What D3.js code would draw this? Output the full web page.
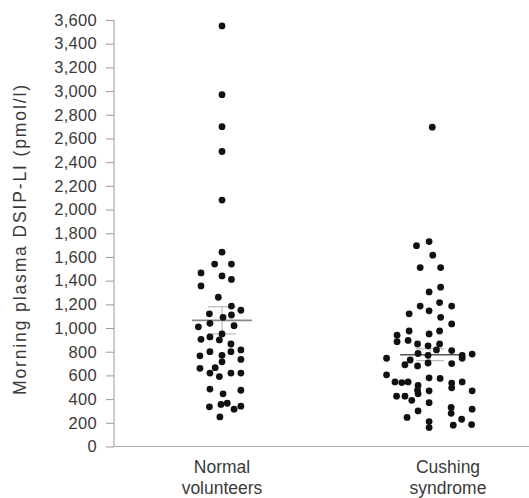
<!DOCTYPE html>
<html>
<head>
<meta charset="utf-8">
<title>DSIP-LI scatter</title>
<script src="https://d3js.org/d3.v7.min.js"></script>
<style>
    body {
        margin: 0;
        background: #fff;
        font-family: 'Liberation Sans', Arial, sans-serif;
    }
    .axis path, .axis line {
        stroke: #9a9a9a;
    }
    .axis text {
        fill: #3a3a3a;
        font-size: 16.5px;
        letter-spacing: 0.3px;
    }
    .catLabel, .yTitle {
        fill: #3a3a3a;
        font-size: 17.5px;
    }
</style>
</head>
<body>
<svg id="chart" width="529" height="498"></svg>
<script>
    // groups shown on the x axis (two text lines each)
    const groups = ["Normal volunteers", "Cushing syndrome"];
    const groupLines = [["Normal", "volunteers"], ["Cushing", "syndrome"]];

    // y ticks, pmol/l
    const yTicks = d3.range(0, 3601, 200);

    // [value pmol/l, column slot relative to the group label]
    const normalPoints = [
        [3550, 0], [2970, 0], [2700, 0], [2490, 0], [2080, 0],
        [1640, 0], [1540, -0.7], [1540, 0.9], [1465, -2.0], [1440, 0], [1410, 0.9],
        [1355, -2.0], [1260, -0.35], [1185, 0.9], [1150, 1.8], [1120, -1.2], [1110, 0.9],
        [1090, 0.1], [1010, -2.25], [1040, -1.15], [1020, 1.15], [950, 0], [905, -2.0],
        [925, -1.15], [900, -0.25], [865, 0.85], [815, 1.8], [800, 0.85], [800, -1.15],
        [765, -2.1], [770, 0], [715, 0], [735, 1.8], [665, -0.65], [660, -2.1],
        [620, -1.15], [590, -0.25], [620, 0.85], [620, 1.8], [485, -1.15], [475, 1.8],
        [445, 0.1], [335, -1.2], [355, -0.1], [365, 0.5], [315, 1.15], [340, 1.8], [250, -0.2]
    ];
    const cushingPoints = [
        [2695, -1.5],
        [1695, -3.0], [1730, -1.8], [1615, -1.45], [1510, -2.65], [1510, -0.7],
        [1305, -1.8], [1345, -0.7], [1185, -2.65], [1215, -0.8], [1185, 0.35],
        [1120, -3.7], [1145, -1.8], [1090, -0.7], [1035, 0.35], [975, -3.7],
        [950, -1.8], [975, -0.8], [940, -4.85], [885, -4.85], [895, -3.8],
        [865, -2.9], [850, -1.9], [865, -0.8], [815, -1.1], [810, 0.35],
        [785, -2.85], [770, -1.9], [770, 1.35], [745, 1.35], [780, 2.3],
        [745, -5.85], [730, -3.6], [690, -4.1], [680, -2.9], [705, -1.9], [700, 0.35],
        [605, -5.85], [545, -5.05], [540, -4.4], [545, -3.8], [515, -2.85], [475, -2.9],
        [580, -1.8], [575, -0.75], [535, 0.35], [495, 0.35], [545, 1.35], [470, 2.3],
        [470, -1.8], [425, -4.9], [425, -4.1], [390, -3.45], [445, -2.85], [370, -1.8],
        [330, 0.3], [280, 0.3], [315, 2.3], [300, -2.85], [245, -3.9], [210, -1.8],
        [160, -1.8], [180, 0.5], [230, 1.3], [185, 2.25]
    ];

    // mean and SEM per group, and centre of each mean bar (slot)
    const groupMeans = [1065, 775];
    const groupSems = [115, 50];
    const meanSlots = [0, -1.7];

    const svg = d3.select("#chart");
    const width = +svg.attr("width");
    const margin = { top: 20, left: 114, bottom: 51.5 };
    const plotBottom = 498 - margin.bottom;

    const y = d3.scaleLinear().domain([0, 3600]).range([plotBottom, margin.top]);
    const x = d3.scalePoint().domain(groups).range([222, 448]);
    const slot = d3.scaleLinear().domain([0, 1]).range([0, 10.5]);

    // y axis
    svg.append("g")
        .attr("class", "axis")
        .attr("transform", "translate(" + margin.left + ",0)")
        .call(d3.axisLeft(y).tickValues(yTicks).tickSize(8).tickPadding(9)
            .tickFormat(d3.format(",")))
        .call(g => g.select(".domain").attr("d", "M0," + y(3600) + "V" + y(0)));

    // baseline
    svg.append("line")
        .attr("x1", margin.left).attr("x2", width)
        .attr("y1", y(0)).attr("y2", y(0))
        .attr("stroke", "#a8a8a8").attr("stroke-width", 1);

    // mean +- SEM bars
    groups.forEach((gname, i) => {
        const cx = x(gname) + slot(meanSlots[i]);
        const m = groupMeans[i], s = groupSems[i];
        const g = svg.append("g");
        g.append("line")
            .attr("x1", cx).attr("x2", cx)
            .attr("y1", y(m + s)).attr("y2", y(m - s))
            .attr("stroke", "#bbb").attr("stroke-width", 1.2);
        [m + s, m - s].forEach(v => {
            g.append("line")
                .attr("x1", cx - 14).attr("x2", cx + 14)
                .attr("y1", y(v)).attr("y2", y(v))
                .attr("stroke", "#bbb").attr("stroke-width", 1.2);
        });
        g.append("line")
            .attr("x1", cx - 30).attr("x2", cx + 30)
            .attr("y1", y(m)).attr("y2", y(m))
            .attr("stroke", i === 0 ? "#8a8a8a" : "#555").attr("stroke-width", 1.6);
    });

    // dots
    [normalPoints, cushingPoints].forEach((pts, i) => {
        svg.append("g").selectAll("circle")
            .data(pts)
            .enter()
            .append("circle")
            .attr("cx", d => x(groups[i]) + slot(d[1]))
            .attr("cy", d => y(d[0]))
            .attr("r", 3.4)
            .attr("fill", "#111");
    });

    // category labels
    groups.forEach((gname, i) => {
        const t = svg.append("text")
            .attr("class", "catLabel")
            .attr("text-anchor", "middle")
            .attr("x", x(gname))
            .attr("y", 473);
        t.append("tspan").attr("x", x(gname)).text(groupLines[i][0]);
        t.append("tspan").attr("x", x(gname)).attr("dy", 21).text(groupLines[i][1]);
    });

    // y title
    svg.append("text")
        .attr("class", "yTitle")
        .attr("text-anchor", "middle")
        .attr("transform", "translate(26,240) rotate(-90)")
        .attr("textLength", 310)
        .attr("lengthAdjust", "spacing")
        .text("Morning plasma DSIP-LI (pmol/l)");
</script>
</body>
</html>
